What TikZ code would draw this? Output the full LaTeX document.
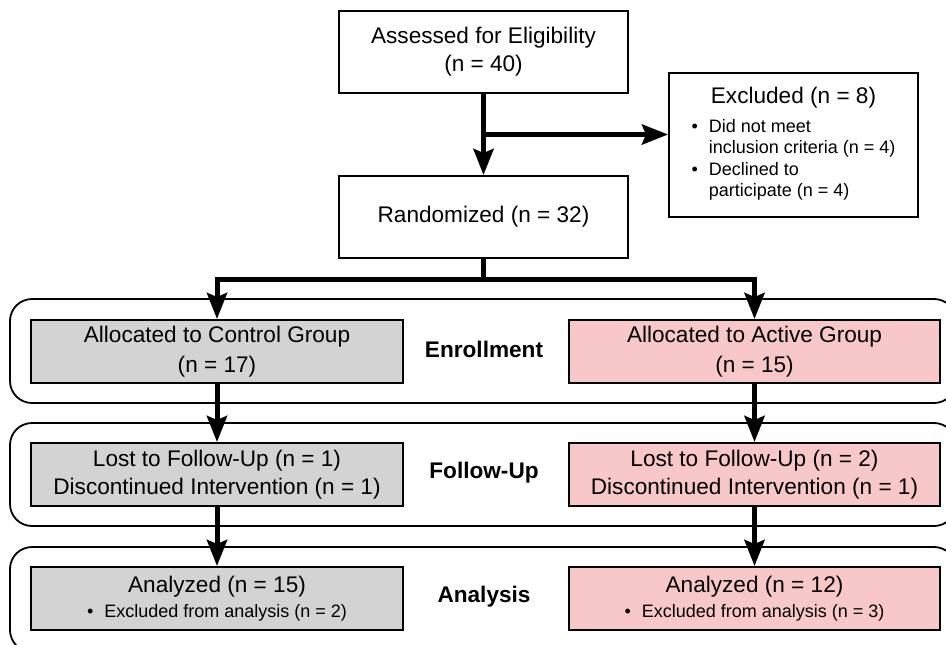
\documentclass[tikz,border=0pt]{standalone}
\usepackage{fontspec}
\setmainfont{Liberation Sans}
\usetikzlibrary{arrows.meta,calc}
\definecolor{ctrlgray}{RGB}{211,211,211}
\definecolor{actpink}{RGB}{248,200,200}

\begin{document}
\begin{tikzpicture}[x=0.5pt,y=-0.5pt]
                \tikzstyle{box}=[draw=black, line width=1pt, inner sep=0pt, align=center, font=\fontsize{11.3}{14}\selectfont]
                \tikzstyle{ctrl}=[box, fill=ctrlgray, minimum width=186pt, minimum height=31.5pt]
                \tikzstyle{act}=[box, fill=actpink, minimum width=185.5pt, minimum height=31.5pt]
                \tikzstyle{band}=[draw=black, line width=0.9pt, rounded corners=11pt]
                \tikzstyle{stage}=[inner sep=0pt, font=\fontsize{11.3}{14}\selectfont\bfseries]
                \tikzstyle{flow}=[line width=2.5pt, -{Stealth[length=13pt,width=10pt,inset=2pt]}]
                \tikzstyle{trunk}=[line width=2.5pt]
                \useasboundingbox (0,0) rectangle (946,644);
                \clip (0,0) rectangle (946,644);
                \draw [band] (10,299) rectangle (956,403);
                \draw [band] (10,423) rectangle (956,526);
                \draw [band] (10,547) rectangle (956,652);
                \node [box, minimum width=144.5pt, minimum height=41pt] (assess) at (483.5,52) {Assessed for Eligibility\\(n = 40)};
                \node [box, minimum width=144.5pt, minimum height=41pt] (rand) at (483.5,217) {Randomized (n = 32)};
                \node [box, minimum width=124.5pt, minimum height=72pt] (excl) at (793.5,145) {Excluded (n = 8)\\[0.5pt]{\fontsize{9}{10.7}\selectfont\begin{tabular}[t]{@{}l@{\hspace{5.5pt}}l@{}}\textbullet & Did not meet\\ & inclusion criteria (n = 4)\\ \textbullet & Declined to\\ & participate (n = 4)\end{tabular}}};
                \node [ctrl] (ctrlA) at (217,351.5) {Allocated to Control Group\\[1pt](n = 17)};
                \node [act] (actA) at (754.5,351.5) {Allocated to Active Group\\[1pt](n = 15)};
                \node [stage] (enroll) at (484,349) {Enrollment};
                \node [ctrl] (ctrlF) at (217,474.5) {Lost to Follow-Up (n = 1)\\Discontinued Intervention (n = 1)};
                \node [act] (actF) at (754.5,474.5) {Lost to Follow-Up (n = 2)\\Discontinued Intervention (n = 1)};
                \node [stage] (follow) at (484,473) {Follow-Up};
                \node [ctrl] (ctrlN) at (217,598.5) {Analyzed (n = 15)\\[-1.5pt]{\fontsize{9}{11}\selectfont\textbullet\hspace{5.5pt}Excluded from analysis (n = 2)}};
                \node [act] (actN) at (754.5,598.5) {Analyzed (n = 12)\\[-1.5pt]{\fontsize{9}{11}\selectfont\textbullet\hspace{5.5pt}Excluded from analysis (n = 3)}};
                \node [stage] (analysis) at (484,597) {Analysis};
                \coordinate (branch) at ($(assess.south)!0.5!(rand.north)$);
                \coordinate (fork) at (483.5,279);
                \draw [flow] (assess.south) -- (rand.north);
                \draw [flow] (branch) -- (branch -| excl.west);
                \draw [trunk] (rand.south) -- (fork);
                \draw [flow] (fork) -| (ctrlA.north);
                \draw [flow] (fork) -| (actA.north);
                \draw [flow] (ctrlA.south) -- (ctrlF.north);
                \draw [flow] (ctrlF.south) -- (ctrlN.north);
                \draw [flow] (actA.south) -- (actF.north);
                \draw [flow] (actF.south) -- (actN.north);
\end{tikzpicture}
\end{document}
